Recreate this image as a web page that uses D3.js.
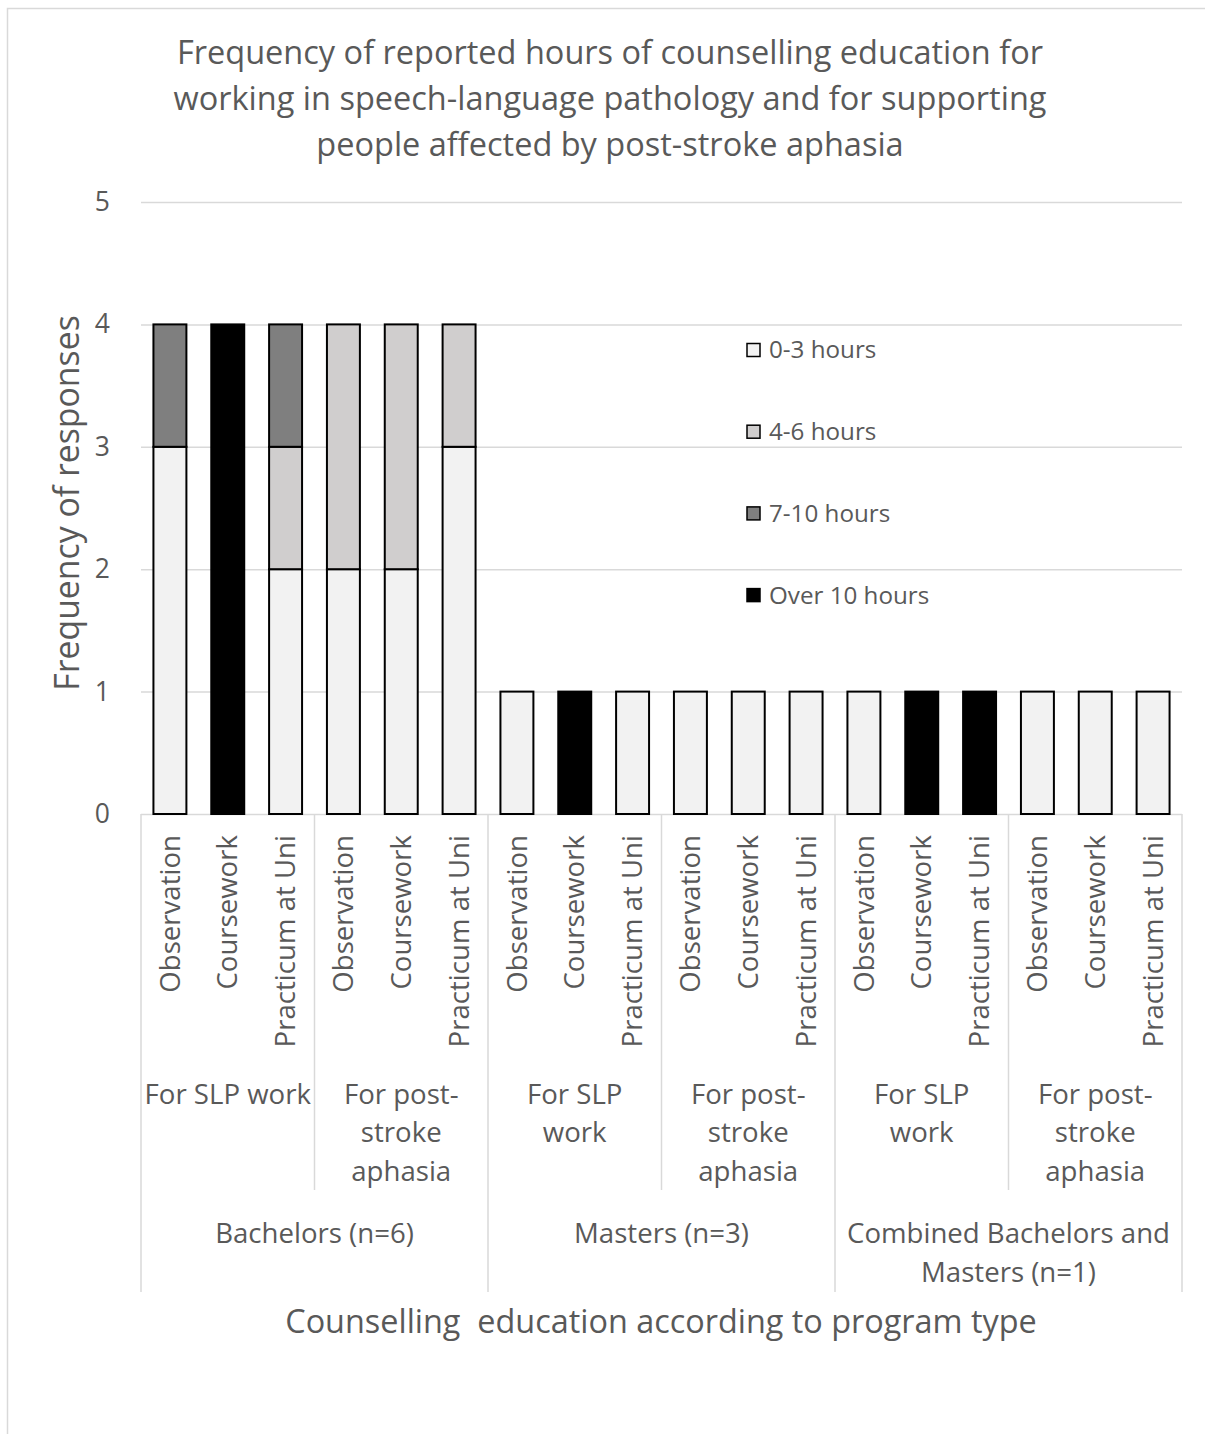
<!DOCTYPE html>
<html>
<head>
<meta charset="utf-8">
<script src="https://cdn.jsdelivr.net/npm/d3@7/dist/d3.min.js"></script>
<style>
  html, body { margin: 0; padding: 0; background: #fff; }
  svg text { font-family: "Open Sans", Lato, sans-serif; fill: #595959; }
</style>
</head>
<body>
<div id="chart"></div>
<script>
// Category structure (program -> purpose -> activity)
const programs = ["Bachelors (n=6)", "Masters (n=3)", ["Combined Bachelors and", "Masters (n=1)"]]
const purposeLabels = [
  ["For SLP work"], ["For post-", "stroke", "aphasia"],
  ["For SLP", "work"], ["For post-", "stroke", "aphasia"],
  ["For SLP", "work"], ["For post-", "stroke", "aphasia"],
]
const activities = ["Observation", "Coursework", "Practicum at Uni"]
const hourBands = ["0-3 hours", "4-6 hours", "7-10 hours", "Over 10 hours"]

// Frequency of responses per bar (18 bars, in order)
const hours0to3   = [3, 0, 2, 2, 2, 3, 1, 0, 1, 1, 1, 1, 1, 0, 0, 1, 1, 1]
const hours4to6   = [0, 0, 1, 2, 2, 1, 0, 0, 0, 0, 0, 0, 0, 0, 0, 0, 0, 0]
const hours7to10  = [1, 0, 1, 0, 0, 0, 0, 0, 0, 0, 0, 0, 0, 0, 0, 0, 0, 0]
const hoursOver10 = [0, 4, 0, 0, 0, 0, 0, 1, 0, 0, 0, 0, 0, 1, 1, 0, 0, 0]

const yTicks = [0, 1, 2, 3, 4, 5]

const BAND_COLORS = ["#f2f2f2", "#d0cece", "#7f7f7f", "#000000"]

const width = 1205, height = 1434
const plot = { left: 141, right: 1182, top: 202, bottom: 814 }

const rows = hours0to3.map((v, i) => ({
  idx: i,
  label: activities[i % 3],
  "0-3 hours": v,
  "4-6 hours": hours4to6[i],
  "7-10 hours": hours7to10[i],
  "Over 10 hours": hoursOver10[i],
}))

const svg = d3.select("#chart").append("svg")
  .attr("width", width).attr("height", height)

// chart border
svg.append("rect")
  .attr("x", 7.5).attr("y", 8.5).attr("width", 1220).attr("height", 1450)
  .attr("fill", "#fff").attr("stroke", "#d9d9d9").attr("stroke-width", 1.5)

const x = d3.scaleBand()
  .domain(rows.map(d => d.idx))
  .range([plot.left, plot.right])
  .paddingInner(0.43)
  .paddingOuter(0.215)

const y = d3.scaleLinear().domain([0, 5]).range([plot.bottom, plot.top])

// Title
const title = ["Frequency of reported hours of counselling education for",
  "working in speech-language pathology and for supporting",
  "people affected by post-stroke aphasia"]
svg.append("g").selectAll("text").data(title).enter().append("text")
  .attr("x", 610).attr("y", (d, i) => 53 + i * 46).attr("dy", "0.35em")
  .attr("text-anchor", "middle").attr("font-size", 32.5)
  .text(d => d)

// Y axis with gridlines
const yAxis = svg.append("g")
  .attr("transform", `translate(${plot.left},0)`)
  .call(d3.axisLeft(y).tickValues(yTicks).tickFormat(d3.format("d"))
    .tickSize(-(plot.right - plot.left)).tickPadding(31))
yAxis.select(".domain").remove()
yAxis.selectAll(".tick line").attr("stroke", "#d9d9d9").attr("stroke-width", 1.5)
yAxis.selectAll(".tick text").attr("font-size", 26.5).attr("fill", "#595959")
  .attr("font-family", "'Open Sans', Lato, sans-serif")

svg.append("text")
  .attr("transform", "translate(67,503) rotate(-90)")
  .attr("text-anchor", "middle").attr("dy", "0.35em").attr("font-size", 33.8)
  .text("Frequency of responses")

// Stacked bars
const series = d3.stack().keys(hourBands)(rows)
svg.append("g").selectAll("g").data(series).enter().append("g")
  .attr("fill", (d, i) => BAND_COLORS[i])
  .selectAll("rect").data(d => d.filter(p => p[1] > p[0])).enter().append("rect")
  .attr("x", d => x(d.data.idx))
  .attr("width", x.bandwidth())
  .attr("y", d => y(d[1]))
  .attr("height", d => y(d[0]) - y(d[1]))
  .attr("stroke", "#000").attr("stroke-width", 2)

// Category axis: separators
const step = x.step()
const edge = i => plot.left + i * step
const sepG = svg.append("g").attr("stroke", "#d9d9d9").attr("stroke-width", 1.5)
d3.range(0, 19, 3).forEach(i => {
  const big = i % 6 === 0
  sepG.append("line")
    .attr("x1", edge(i)).attr("x2", edge(i))
    .attr("y1", plot.bottom).attr("y2", big ? 1292 : 1190)
})

// Activity labels (rotated)
svg.append("g").selectAll("text").data(rows).enter().append("text")
  .attr("transform", d => `translate(${x(d.idx) + x.bandwidth() / 2},835) rotate(-90)`)
  .attr("text-anchor", "end").attr("dy", "0.35em").attr("font-size", 27.6)
  .text(d => d.label)

// Purpose labels
purposeLabels.forEach((lines, g) => {
  const cx = edge(g * 3 + 1.5)
  svg.append("text").attr("text-anchor", "middle").attr("font-size", 27.6)
    .selectAll("tspan").data(lines).enter().append("tspan")
    .attr("x", cx).attr("y", (d, i) => 1094 + i * 38.5).attr("dy", "0.35em")
    .text(d => d)
})

// Program labels
programs.forEach((p, g) => {
  const lines = Array.isArray(p) ? p : [p]
  const cx = edge(g * 6 + 3)
  svg.append("text").attr("text-anchor", "middle").attr("font-size", 27.6)
    .selectAll("tspan").data(lines).enter().append("tspan")
    .attr("x", cx).attr("y", (d, i) => 1233 + i * 39).attr("dy", "0.35em")
    .text(d => d)
})

svg.append("text")
  .attr("x", 661).attr("y", 1322).attr("dy", "0.35em")
  .attr("text-anchor", "middle").attr("font-size", 32.4)
  .attr("xml:space", "preserve").style("white-space", "pre")
  .text("Counselling  education according to program type")

// Legend
const legend = svg.append("g").attr("transform", "translate(747,0)")
hourBands.forEach((b, i) => {
  const cy = 350 + i * 81.7
  legend.append("rect").attr("x", 0).attr("y", cy - 6.5).attr("width", 13).attr("height", 13)
    .attr("fill", BAND_COLORS[i]).attr("stroke", "#000").attr("stroke-width", 1.5)
  legend.append("text").attr("x", 22).attr("y", cy).attr("dy", "0.35em")
    .attr("font-size", 24.2).text(b)
})
</script>
</body>
</html>
